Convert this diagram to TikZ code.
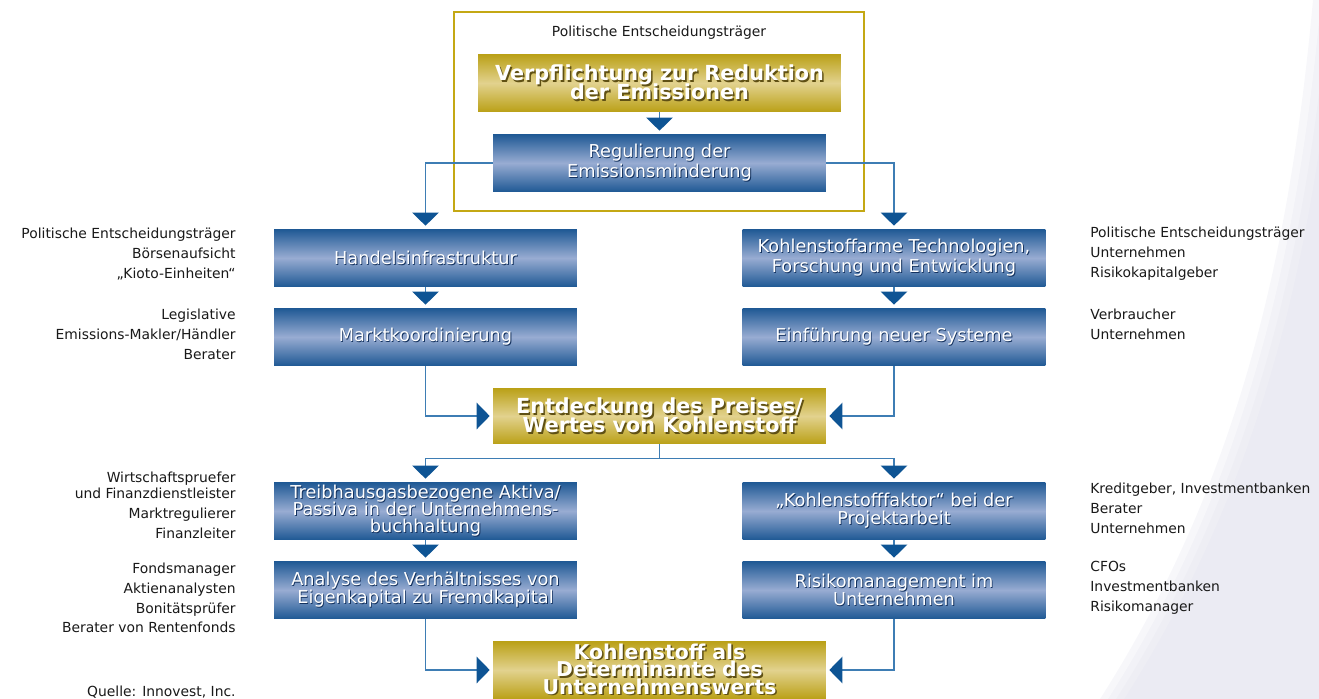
\documentclass[tikz,border=0pt]{standalone}
\usepackage{fontspec}
\setmainfont{DejaVu Sans}
\usepackage{tikz}
\usetikzlibrary{arrows.meta}
\definecolor{blueedge}{RGB}{30,88,148}
\definecolor{bluemid}{RGB}{152,172,210}
\definecolor{goldedge}{RGB}{186,160,22}
\definecolor{goldmid}{RGB}{226,210,142}
\definecolor{frameg}{RGB}{196,168,20}
\definecolor{linkblue}{RGB}{62,125,180}
\definecolor{tipblue}{RGB}{14,84,148}
\definecolor{blueshade}{RGB}{20,50,95}
\definecolor{goldshade}{RGB}{95,80,20}
\definecolor{swoosh}{RGB}{228,228,238}
\definecolor{labelblack}{RGB}{25,25,25}
\tikzset{>={Triangle[width=15pt,length=7.4pt,color=tipblue]}}
\newcommand\stk[1]{\vbox{\lineskiplimit=-\maxdimen\let\\\cr\halign{\hfil##\hfil\cr#1\crcr}}}
\newcommand\shtext[3][0.5pt]{%
  \rlap{\raisebox{-#1}{\kern#1\textcolor{#2}{\stk{#3}}}}%
  \stk{#3}}
\newcommand\lblfont{\fontsize{7.9}{11.3}\selectfont}
\newcommand\bluefont{\fontsize{10.1}{10.2}\selectfont}
\newcommand\goldfont{\fontsize{11.8}{10.8}\selectfont\bfseries}
\tikzset{
  lbl/.style={font=\lblfont,inner sep=0pt,text=labelblack},
  lbll/.style={lbl,anchor=east,align=right},
  lblr/.style={lbl,anchor=west,align=left},
  bluebox/.style={shape=rectangle,minimum width=6.06cm,minimum height=1.16cm,inner sep=0pt,
    top color=blueedge,bottom color=blueedge,middle color=bluemid,text=white,font=\bluefont},
  goldbox/.style={shape=rectangle,minimum width=6.66cm,minimum height=1.16cm,inner sep=0pt,
    top color=goldedge,bottom color=goldedge,middle color=goldmid,text=white,font=\goldfont},
  frame/.style={shape=rectangle,draw=frameg,line width=0.85pt,minimum width=8.2cm,minimum height=3.98cm},
  conn/.style={draw=linkblue,line width=0.85pt,->,shorten >=1.7pt}
}
\begin{document}
\begin{tikzpicture}[x=0.02cm,y=-0.02cm]

\useasboundingbox (0,0) rectangle (1319,699);

\foreach \d in {0,8,16,24}
  \fill[swoosh,opacity=0.28] (1313+\d,0) .. controls (1290+\d,250) and (1240+\d,480) .. (1100+\d,699) -- (1319,699) -- (1319,0) -- cycle;

\path (659,111.5) node [frame] (rahmen) {};

\path (659,33) node [lbl] (lbltop) {Politische Entscheidungsträger};

\path (659.5,83) node [goldbox,minimum width=7.26cm] (verpf) {\shtext[0.9pt]{goldshade}{Verpflichtung zur Reduktion\\der Emissionen}};

\path (659.5,163) node [bluebox,minimum width=6.66cm,font=\fontsize{10.1}{11.3}\selectfont] (regul) {\shtext{blueshade}{Regulierung der\\Emissionsminderung}};

\path (425.5,258) node [bluebox] (handel) {\shtext{blueshade}{Handelsinfrastruktur}};

\path (894,258) node [bluebox,font=\fontsize{10.1}{11.3}\selectfont] (techn) {\shtext{blueshade}{Kohlenstoffarme Technologien,\\Forschung und Entwicklung}};

\path (425.5,337) node [bluebox] (markt) {\shtext{blueshade}{Marktkoordinierung}};

\path (894,337) node [bluebox] (einf) {\shtext{blueshade}{Einführung neuer Systeme}};

\path (659.5,416) node [goldbox,minimum height=1.12cm] (preis) {\shtext[0.9pt]{goldshade}{Entdeckung des Preises/\\Wertes von Kohlenstoff}};

\path (425.5,511) node [bluebox,font=\fontsize{10.1}{9.6}\selectfont] (treib) {\shtext{blueshade}{Treibhausgasbezogene Aktiva/\\Passiva in der Unternehmens-\\buchhaltung}};

\path (894,511) node [bluebox] (faktor) {\shtext{blueshade}{„Kohlenstofffaktor“ bei der\\Projektarbeit}};

\path (425.5,590) node [bluebox] (analyse) {\shtext{blueshade}{Analyse des Verhältnisses von\\Eigenkapital zu Fremdkapital}};

\path (894,590) node [bluebox] (risiko) {\shtext{blueshade}{Risikomanagement im\\Unternehmen}};

\path (659.5,670) node [goldbox,font=\fontsize{11.6}{10}\selectfont\bfseries] (wert) {\shtext[0.9pt]{goldshade}{Kohlenstoff als\\Determinante des\\Unternehmenswerts}};

\draw[conn] (verpf) -- (regul);
\draw[conn] (regul.west) -| (handel.north);
\draw[conn] (regul.east) -| (techn.north);
\draw[conn] (handel) -- (markt);
\draw[conn] (techn) -- (einf);
\draw[conn] (markt.south) |- (preis.west);
\draw[conn] (einf.south) |- (preis.east);
\draw[conn] (preis.south) -- ++(0,14) -| (treib.north);
\draw[conn] (preis.south) -- ++(0,14) -| (faktor.north);
\draw[conn] (treib) -- (analyse);
\draw[conn] (faktor) -- (risiko);
\draw[conn] (analyse.south) |- (wert.west);
\draw[conn] (risiko.south) |- (wert.east);

\path (236,254) node [lbll] (lblhandel) {Politische Entscheidungsträger\\Börsenaufsicht\\„Kioto-Einheiten“};

\path (236,334) node [lbll] (lblmarkt) {Legislative\\Emissions-Makler/Händler\\Berater};

\path (236,505) node [lbll] (lbltreib) {Wirtschaftspruefer\\[-2.2pt]und Finanzdienstleister\\Marktregulierer\\Finanzleiter};

\path (236,598) node [lbll] (lblanalyse) {Fondsmanager\\Aktienanalysten\\Bonitätsprüfer\\Berater von Rentenfonds};

\path (236,692) node [lbll] (quelle) {Quelle: Innovest, Inc.};

\path (1090,254) node [lblr] (lbltechn) {Politische Entscheidungsträger\\Unternehmen\\Risikokapitalgeber};

\path (1090,324) node [lblr] (lbleinf) {Verbraucher\\Unternehmen};

\path (1090,508) node [lblr] (lblfaktor) {Kreditgeber, Investmentbanken\\Berater\\Unternehmen};

\path (1090,588) node [lblr] (lblrisiko) {CFOs\\Investmentbanken\\Risikomanager};

\end{tikzpicture}
\end{document}
